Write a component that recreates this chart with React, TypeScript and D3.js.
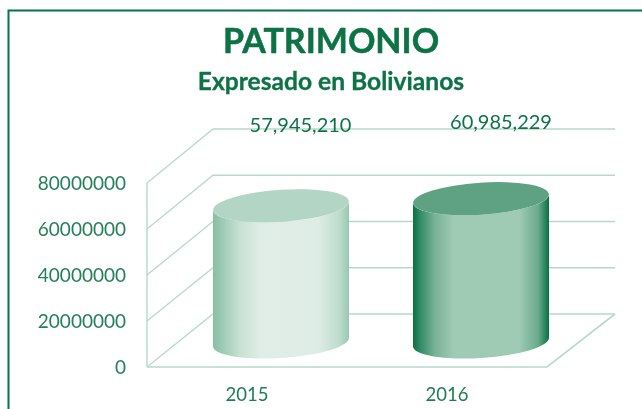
import React from "react";
import * as d3 from "d3";

const categories = ["2015", "2016"];
const values = [57945210, 60985229];
const valueLabels = ["57,945,210", "60,985,229"];
const yTicks = [0, 20000000, 40000000, 60000000, 80000000];
const topColors = ["#b3d5c5", "#5fa283"];
const gradientStops = [
  [["0", "#86bfa4"], ["0.2", "#c8e1d5"], ["0.36", "#e0eee7"], ["0.78", "#ddece5"], ["0.93", "#bcdccc"], ["1", "#98c8b1"]],
  [["0", "#0a7043"], ["0.05", "#2f8a62"], ["0.16", "#78b296"], ["0.3", "#9fcbb5"], ["0.78", "#9fcbb5"], ["0.92", "#6aab8c"], ["0.98", "#1f7f55"], ["1", "#0a7043"]],
];

const GREEN = "#0b7245";
const GRID = "#b8d9ca";

const yFront = d3.scaleLinear().domain([0, 80000000]).range([367, 183]);
const yBack = d3.scaleLinear().domain([0, 80000000]).range([314, 129]);
const yBar = d3.scaleLinear().domain([0, 80000000]).range([342, 154]);
const xCat = d3.scaleBand().domain(categories).range([147, 547]).padding(0);
const barCenter = d3.scaleOrdinal<string, number>().domain(categories).range([281, 481]);

const frontL = 147, frontR = 547, backL = 213, backR = 615;
const RX = 68, RY = 16, TILT = 4.5;
const rot = (Math.atan2(-TILT, RX) * 180) / Math.PI;

export default function App() {
  return (
    <svg width={642} height={409} viewBox="0 0 642 409"
      style={{ position: "absolute", left: 0, top: 0, background: "#fff", fontFamily: "Lato, Carlito, sans-serif" }}>
      <defs>
        {gradientStops.map((stops, i) => (
          <linearGradient key={i} id={`cyl${i}`} x1="0" x2="1" y1="0" y2="0">
            {stops.map(([o, c]) => <stop key={o} offset={o} stopColor={c} />)}
          </linearGradient>
        ))}
        <filter id="soft" x="-5%" y="-5%" width="110%" height="110%">
          <feGaussianBlur stdDeviation="0.45" />
        </filter>
      </defs>
      <g filter="url(#soft)">
        <path d="M8.5,409 V10.5 H642" fill="none" stroke={GREEN} strokeWidth={2} />

        <path d={`M${frontL},${yFront(0)} H${frontR} L${backR},${yBack(0)}`} fill="none" stroke={GRID} strokeWidth={1.6} />
        <line x1={frontL} x2={frontL} y1={yFront(0)} y2={yFront(80000000)} stroke={GRID} strokeWidth={1.4} />
        {yTicks.map((t) => (
          <path key={t} d={`M${frontL},${yFront(t)} L${backL},${yBack(t)} H${backR}`} fill="none" stroke={GRID} strokeWidth={1.3} />
        ))}

        {yTicks.map((t) => (
          <text key={t} x={126} y={yFront(t)} dy="0.36em" textAnchor="end" fontSize={19} fill={GREEN} opacity={0.9}>{t}</text>
        ))}

        {categories.map((c, i) => {
          const cx = barCenter(c);
          const xl = cx - RX, xr = cx + RX;
          const top = yBar(values[i]), bot = yBar(0);
          const d = `M${xl},${top + TILT} L${xl},${bot + TILT} A${RX},${RY} ${rot} 0 0 ${xr},${bot - TILT} L${xr},${top - TILT} A${RX},${RY} ${rot} 0 1 ${xl},${top + TILT} Z`;
          return (
            <g key={c}>
              <path d={d} fill={`url(#cyl${i})`} />
              <ellipse cx={cx} cy={top} rx={RX} ry={RY} fill={topColors[i]} transform={`rotate(${rot} ${cx} ${top})`} />
              <text x={xCat(c)! + xCat.bandwidth() / 2} y={401} textAnchor="middle" fontSize={18.5} fill={GREEN} opacity={0.92}>{c}</text>
            </g>
          );
        })}

        <text x={300.5} y={132} textAnchor="middle" fontSize={20} fill={GREEN}>{valueLabels[0]}</text>
        <text x={501} y={129} textAnchor="middle" fontSize={20} fill={GREEN}>{valueLabels[1]}</text>

        <text x={331} y={53} textAnchor="middle" fontSize={34} fontWeight={700} fill={GREEN} stroke={GREEN} strokeWidth={0.5}>PATRIMONIO</text>
        <text x={331} y={90} textAnchor="middle" fontSize={24.6} fontWeight={700} fill={GREEN} stroke={GREEN} strokeWidth={0.3}>Expresado en Bolivianos</text>
      </g>
    </svg>
  );
}
